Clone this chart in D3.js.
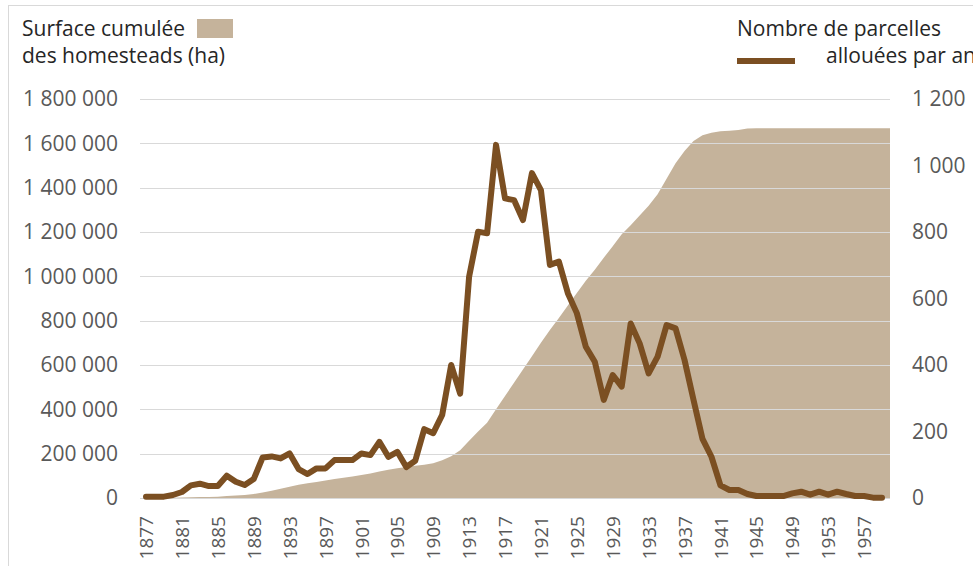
<!DOCTYPE html>
<html>
<head>
<meta charset="utf-8">
<script src="https://cdn.jsdelivr.net/npm/d3@7/dist/d3.min.js"></script>
<style>
body { margin: 0; background: #fff; }
text { font-family: "Open Sans", "Noto Sans", sans-serif; }
</style>
</head>
<body>
<svg id="chart" width="973" height="566"></svg>
<script>

// categories: one point per year, 1877 -> 1959
var years = d3.range(1877, 1960);
var yearLabels = years.filter(function (y) { return (y - 1877) % 4 == 0; });

// cumulated surface of the homesteads (ha), left axis
var surface = [
    0, 0, 0, 1000, 2000, 3000, 4000, 5000, 6000, 9000,
    11000, 14000, 18000, 25000, 33000, 42000, 51000, 60000, 66000, 72000,
    79000, 86000, 91000, 97000, 104000, 111000, 119000, 127000, 134000, 140000,
    145000, 150000, 157000, 170000, 188000, 215000, 258000, 300000, 340000, 400000,
    460000, 520000, 580000, 640000, 700000, 758000, 812000, 868000, 925000, 980000,
    1030000, 1084000, 1136000, 1190000, 1230000, 1275000, 1318000, 1370000, 1440000, 1510000,
    1565000, 1610000, 1637000, 1648000, 1655000, 1657000, 1660000, 1667000, 1668000, 1668000,
    1668000, 1668000, 1668000, 1668000, 1668000, 1668000, 1668000, 1668000, 1668000, 1668000,
    1668000, 1668000, 1668000
];

// number of plots allocated per year, right axis
var parcels = [
    4, 4, 4, 9, 18, 38, 43, 36, 36, 67,
    49, 39, 57, 122, 125, 119, 134, 87, 72, 89,
    89, 114, 114, 114, 134, 129, 169, 124, 139, 93,
    112, 207, 195, 250, 400, 314, 666, 801, 796, 1062,
    901, 896, 836, 977, 926, 701, 711, 616, 556, 455,
    410, 295, 370, 335, 525, 465, 375, 425, 520, 510,
    415, 295, 178, 124, 38, 24, 24, 12, 6, 6,
    6, 6, 14, 19, 10, 19, 10, 19, 12, 6,
    6, 1, 1
];

var leftTicks = [0, 200000, 400000, 600000, 800000, 1000000, 1200000, 1400000, 1600000, 1800000];
var rightTicks = [0, 200, 400, 600, 800, 1000, 1200];

var legendArea = ["Surface cumulée", "des homesteads (ha)"];
var legendLine = ["Nombre de parcelles", "allouées par an"];

var areaColor = "#c5b39b";
var lineColor = "#7b4f22";
var gridColor = "#d9d9d9";
var tickColor = "#595959";

var svg = d3.select("#chart");
var plot = {left: 140, right: 890, top: 99, bottom: 498};

var fr = d3.formatLocale({decimal: ",", thousands: " ", grouping: [3], currency: ["", " €"]});
var fmt = fr.format(",");

var x = d3.scalePoint()
        .domain(years)
        .range([146, 882]);

var yLeft = d3.scaleLinear()
        .domain([0, 1800000])
        .range([plot.bottom, plot.top]);

var yRight = d3.scaleLinear()
        .domain([0, 1200])
        .range([plot.bottom, plot.top]);

// outer frame of the chart
svg.append("rect")
        .attr("x", 8.5)
        .attr("y", 5.5)
        .attr("width", 1000)
        .attr("height", 600)
        .attr("fill", "none")
        .attr("stroke", gridColor);

// area: stretched to the plot edges like the spreadsheet does
var areaData = surface.map(function (d, i) { return {px: x(years[i]), v: d}; });
areaData.unshift({px: plot.left, v: surface[0]});
areaData.push({px: plot.right, v: surface[surface.length - 1]});

var area = d3.area()
        .x(function (d) { return d.px; })
        .y0(yLeft(0))
        .y1(function (d) { return yLeft(d.v); });

svg.append("path")
        .datum(areaData)
        .attr("fill", areaColor)
        .attr("d", area);

// gridlines (drawn over the area, they show through lighter)
svg.append("g")
        .selectAll("line")
        .data(leftTicks)
        .enter().append("line")
        .attr("x1", plot.left)
        .attr("x2", plot.right)
        .attr("y1", function (d) { return Math.round(yLeft(d)) + 0.5; })
        .attr("y2", function (d) { return Math.round(yLeft(d)) + 0.5; })
        .attr("stroke", gridColor)
        .attr("stroke-width", 1.2);

var line = d3.line()
        .x(function (d, i) { return x(years[i]); })
        .y(function (d) { return yRight(d); });

svg.append("path")
        .datum(parcels)
        .attr("fill", "none")
        .attr("stroke", lineColor)
        .attr("stroke-width", 6)
        .attr("stroke-linejoin", "round")
        .attr("stroke-linecap", "round")
        .attr("d", line);

// left axis
var gl = svg.append("g")
        .attr("transform", "translate(118,0)")
        .call(d3.axisLeft(yLeft).tickValues(leftTicks).tickFormat(fmt).tickSize(0).tickPadding(0));
gl.select(".domain").remove();
gl.selectAll("text").attr("font-size", 21).attr("fill", tickColor).attr("font-family", "Open Sans");

// right axis
var gr = svg.append("g")
        .attr("transform", "translate(912,0)")
        .call(d3.axisRight(yRight).tickValues(rightTicks).tickFormat(fmt).tickSize(0).tickPadding(0));
gr.select(".domain").remove();
gr.selectAll("text").attr("font-size", 21).attr("fill", tickColor).attr("font-family", "Open Sans");

// bottom axis, vertical labels
var gb = svg.append("g")
        .attr("transform", "translate(0,516)")
        .call(d3.axisBottom(x).tickValues(yearLabels).tickSize(0).tickPadding(0));
gb.select(".domain").remove();
gb.selectAll("text")
        .attr("font-size", 19)
        .attr("fill", tickColor)
        .attr("font-family", "Open Sans")
        .attr("text-anchor", "end")
        .attr("y", 0)
        .attr("dy", "0.35em")
        .attr("transform", "rotate(-90)");

// legend
var lg = svg.append("g").attr("fill", "#262626").attr("font-size", 21);
lg.selectAll("text.la")
        .data(legendArea)
        .enter().append("text")
        .attr("class", "la")
        .attr("x", 22)
        .attr("y", function (d, i) { return 36 + i * 27; })
        .text(function (d) { return d; });
lg.append("rect")
        .attr("x", 197)
        .attr("y", 19)
        .attr("width", 36)
        .attr("height", 19)
        .attr("fill", areaColor);

lg.append("text")
        .attr("x", 737)
        .attr("y", 36)
        .text(legendLine[0]);
lg.append("text")
        .attr("x", 826)
        .attr("y", 63)
        .text(legendLine[1]);
lg.append("line")
        .attr("x1", 737)
        .attr("x2", 795)
        .attr("y1", 61)
        .attr("y2", 61)
        .attr("stroke", lineColor)
        .attr("stroke-width", 6);

</script>
</body>
</html>
